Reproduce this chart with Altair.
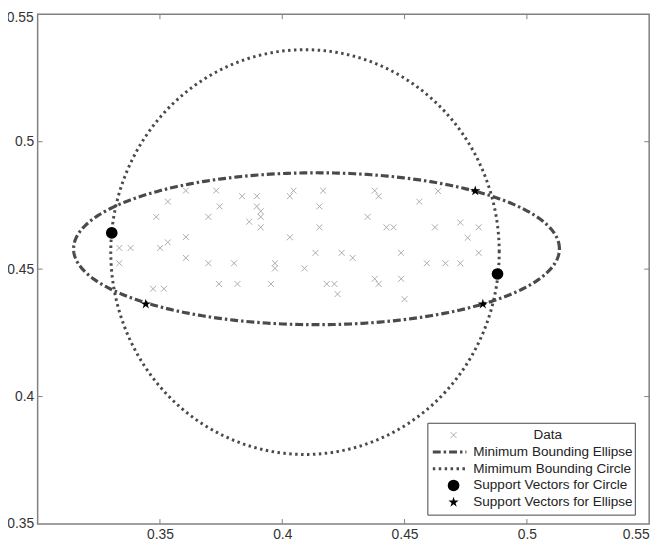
import altair as alt
import numpy as np
import pandas as pd

# ---- data ----
data_x = [0.3606, 0.3730, 0.3532, 0.3744, 0.3485, 0.3698, 0.3606, 0.3532, 0.3501, 0.3334,
          0.3380, 0.3606, 0.3698, 0.3803, 0.3334, 0.3741, 0.3817, 0.3472, 0.3516, 0.3836,
          0.3896, 0.4031, 0.4046, 0.4167, 0.3896, 0.3912, 0.3912, 0.4152, 0.3865, 0.3912,
          0.4152, 0.4031, 0.4136, 0.4243, 0.4288, 0.3970, 0.3970, 0.4091, 0.3954, 0.4182,
          0.4213, 0.4226, 0.4378, 0.4394, 0.4637, 0.4560, 0.4349, 0.4426, 0.4455, 0.4624,
          0.4728, 0.4803, 0.4758, 0.4486, 0.4803, 0.4591, 0.4667, 0.4728, 0.4378, 0.4394,
          0.4486, 0.4500]
data_y = [0.4808, 0.4808, 0.4765, 0.4746, 0.4705, 0.4705, 0.4626, 0.4605, 0.4583, 0.4583,
          0.4583, 0.4544, 0.4523, 0.4523, 0.4523, 0.4442, 0.4442, 0.4423, 0.4423, 0.4786,
          0.4786, 0.4786, 0.4808, 0.4808, 0.4746, 0.4727, 0.4705, 0.4746, 0.4686, 0.4664,
          0.4664, 0.4625, 0.4564, 0.4564, 0.4544, 0.4523, 0.4503, 0.4503, 0.4442, 0.4442,
          0.4442, 0.4402, 0.4808, 0.4786, 0.4806, 0.4765, 0.4705, 0.4664, 0.4664, 0.4664,
          0.4683, 0.4664, 0.4623, 0.4564, 0.4564, 0.4523, 0.4523, 0.4523, 0.4462, 0.4442,
          0.4462, 0.4382]

circle_sv_x = [0.3303, 0.4880]
circle_sv_y = [0.4642, 0.4481]
ellipse_sv_x = [0.3442, 0.4789, 0.4820]
ellipse_sv_y = [0.4363, 0.4807, 0.4363]

ellipse_center = [0.4140, 0.4580]
ellipse_semi_axes = [0.0993, 0.0298]
circle_center = [0.4093, 0.4567]
circle_radius = 0.0794

x_ticks = [0.35, 0.4, 0.45, 0.5, 0.55]
y_ticks = [0.35, 0.4, 0.45, 0.5]
y_top_label = "0.55"
x_inner_ticks = [0.35, 0.4, 0.45, 0.5]
y_inner_ticks = [0.4, 0.45, 0.5]

legend_labels = ["Data", "Minimum Bounding Ellipse", "Mimimum Bounding Circle",
                 "Support Vectors for Circle", "Support Vectors for Ellipse"]

# ---- tables ----
t = np.linspace(0, 2 * np.pi, 361)
ell_df = pd.DataFrame({"x": ellipse_center[0] + ellipse_semi_axes[0] * np.cos(t),
                       "y": ellipse_center[1] + ellipse_semi_axes[1] * np.sin(t),
                       "i": np.arange(len(t))})
cir_df = pd.DataFrame({"x": circle_center[0] + circle_radius * np.cos(t),
                       "y": circle_center[1] + circle_radius * np.sin(t),
                       "i": np.arange(len(t))})
data_df = pd.DataFrame({"x": data_x, "y": data_y})
csv_df = pd.DataFrame({"x": circle_sv_x, "y": circle_sv_y})
esv_df = pd.DataFrame({"x": ellipse_sv_x, "y": ellipse_sv_y})
xt_df = pd.DataFrame({"x": x_inner_ticks})
yt_df = pd.DataFrame({"y": y_inner_ticks})
dummy = pd.DataFrame({"a": [0]})

W, H = 619, 516
GRAY = "#808080"
LINE = "#4a4a4a"
TXT = "#333333"
CROSS = "M-1,-1L1,1M-1,1L1,-1"
STAR = ("M0,-1L0.223,-0.307L0.951,-0.309L0.361,0.117L0.588,0.809L0,0.38"
        "L-0.588,0.809L-0.361,0.117L-0.951,-0.309L-0.223,-0.307Z")

xs = alt.Scale(domain=[0.3, 0.55], nice=False, zero=False)
ys = alt.Scale(domain=[0.35, 0.55], nice=False, zero=False)
xaxis = alt.Axis(values=x_ticks, format=".2~f", ticks=False, domain=False, grid=False,
                 labelPadding=4, title=None)
yaxis = alt.Axis(values=y_ticks, format=".2~f", ticks=False, domain=False, grid=False,
                 labelPadding=4, title=None)
X = alt.X("x:Q", scale=xs, axis=xaxis)
Y = alt.Y("y:Q", scale=ys, axis=yaxis)

layers = []
# inward ticks
base_xt = alt.Chart(xt_df).mark_rule(color=GRAY, strokeWidth=1)
layers.append(base_xt.encode(x=X, y=alt.value(H), y2=alt.value(H - 5)))
layers.append(base_xt.encode(x=X, y=alt.value(0), y2=alt.value(5)))
base_yt = alt.Chart(yt_df).mark_rule(color=GRAY, strokeWidth=1)
layers.append(base_yt.encode(y=Y, x=alt.value(0), x2=alt.value(5)))
layers.append(base_yt.encode(y=Y, x=alt.value(W), x2=alt.value(W - 5)))
# top y label (kept inside the page)
layers.append(alt.Chart(dummy).mark_text(align="right", baseline="top", fontSize=14,
                                         font="Liberation Sans", color=TXT)
              .encode(x=alt.value(-4), y=alt.value(-3), text=alt.value(y_top_label)))

# data
layers.append(alt.Chart(data_df).mark_point(shape=CROSS, size=36, strokeWidth=1,
                                            color="#ababab", filled=False, opacity=1)
              .encode(x=X, y=Y))
layers.append(alt.Chart(cir_df).mark_line(color=LINE, strokeWidth=3, strokeDash=[2.5, 3.5])
              .encode(x=X, y=Y, order="i:Q"))
layers.append(alt.Chart(ell_df).mark_line(color=LINE, strokeWidth=3.2, strokeDash=[8, 3, 2.5, 3])
              .encode(x=X, y=Y, order="i:Q"))
layers.append(alt.Chart(csv_df).mark_point(shape="circle", size=140, filled=True,
                                           color="black", opacity=1)
              .encode(x=X, y=Y))
layers.append(alt.Chart(esv_df).mark_point(shape=STAR, size=120, filled=True,
                                           color="black", opacity=1)
              .encode(x=X, y=Y))

# legend
LX0, LX1, LY0, LY1 = 395, 605, 414, 507
rows = [426 + 17 * i for i in range(5)]
layers.append(alt.Chart(dummy).mark_rect(fill="white", stroke="#444444", strokeWidth=1)
              .encode(x=alt.value(LX0), x2=alt.value(LX1), y=alt.value(LY0), y2=alt.value(LY1)))
layers.append(alt.Chart(dummy).mark_point(shape=CROSS, size=36, strokeWidth=1,
                                          color="#ababab", filled=False, opacity=1)
              .encode(x=alt.value(421), y=alt.value(rows[0])))
layers.append(alt.Chart(dummy).mark_rule(color=LINE, strokeWidth=3, strokeDash=[8, 3, 2.5, 3])
              .encode(x=alt.value(400), x2=alt.value(434), y=alt.value(rows[1])))
layers.append(alt.Chart(dummy).mark_rule(color=LINE, strokeWidth=3, strokeDash=[2.5, 3.5])
              .encode(x=alt.value(400), x2=alt.value(434), y=alt.value(rows[2])))
layers.append(alt.Chart(dummy).mark_point(shape="circle", size=140, filled=True,
                                          color="black", opacity=1)
              .encode(x=alt.value(421), y=alt.value(rows[3])))
layers.append(alt.Chart(dummy).mark_point(shape=STAR, size=120, filled=True,
                                          color="black", opacity=1)
              .encode(x=alt.value(421), y=alt.value(rows[4])))
for i, lab in enumerate(legend_labels):
    lx = 502 if i == 0 else 441
    layers.append(alt.Chart(dummy).mark_text(align="left", baseline="middle", fontSize=13.7,
                                             font="Liberation Sans", color="#222222")
                  .encode(x=alt.value(lx), y=alt.value(rows[i]), text=alt.value(lab)))

chart = (alt.layer(*layers)
         .properties(width=W, height=H,
                     autosize=alt.AutoSizeParams(type="none"),
                     padding={"left": 30, "top": 3, "right": 14, "bottom": 25})
         .configure_view(stroke=GRAY, strokeWidth=1.5)
         .configure_axis(labelFont="Liberation Sans", labelFontSize=14, labelColor=TXT))

chart.save("out.html", embed_options={"renderer": "svg", "actions": False})
